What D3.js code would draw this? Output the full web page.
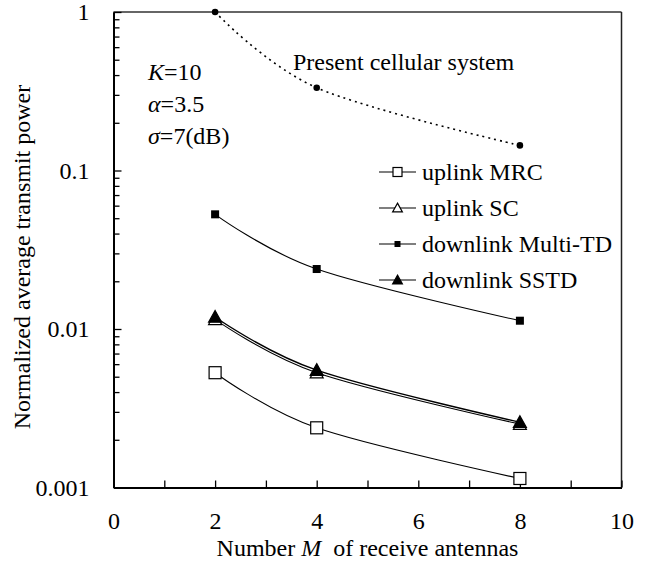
<!DOCTYPE html>
<html>
<head>
<meta charset="utf-8">
<script src="https://cdn.jsdelivr.net/npm/d3@7"></script>
<style>
  body { margin: 0; background: #fff; }
</style>
</head>
<body>
<svg id="chart" width="647" height="570" font-family="Liberation Serif"></svg>
<script>
// data
const antennas      = [2, 4, 8];
const present_cell  = [1.0, 0.333, 0.144];
const uplink_mrc    = [0.0053, 0.00238, 0.00114];
const uplink_sc     = [0.0115, 0.0053, 0.00251];
const down_multi_td = [0.0529, 0.0239, 0.01128];
const down_sstd     = [0.0119, 0.0055, 0.00258];

const x_ticks = [0, 2, 4, 6, 8, 10];
const x_minor = [1, 3, 5, 7, 9];
const y_ticks = [1, 0.1, 0.01, 0.001];
const y_tick_labels = ["1", "0.1", "0.01", "0.001"];

const legend_items = [
  {name: "uplink MRC",        marker: "square_open"},
  {name: "uplink SC",         marker: "tri_open"},
  {name: "downlink Multi-TD", marker: "square_fill"},
  {name: "downlink SSTD",     marker: "tri_fill"}
];

const plot = {left: 113.5, right: 621.5, top: 12, bottom: 487.5};
const FS = 24;
const FONT = "Liberation Serif";

const svg = d3.select("#chart");
const x = d3.scaleLinear().domain([0, 10]).range([plot.left, plot.right]);
const y = d3.scaleLog().domain([0.001, 1]).range([plot.bottom, plot.top]);

function txt(sel){ return sel.attr("font-family", FONT).attr("font-size", FS).attr("fill", "#000"); }

// minor log ticks 2..9 in every decade
var y_minor = [];
[0.001, 0.01, 0.1].forEach(function(dec){
  for (var k = 2; k <= 9; k++) y_minor.push(dec * k);
});

// frame: top + right
svg.append("line").attr("x1", plot.left).attr("x2", plot.right).attr("y1", plot.top).attr("y2", plot.top)
  .style("stroke", "#666").style("stroke-width", 1.8);
svg.append("line").attr("x1", plot.right).attr("x2", plot.right).attr("y1", plot.top).attr("y2", plot.bottom)
  .style("stroke", "#222").style("stroke-width", 1.5);

// y axis
const y_minor_g = svg.append("g").attr("transform", "translate(" + plot.left + ",0)")
  .call(d3.axisLeft(y).tickValues(y_minor).tickSize(-6).tickSizeOuter(0).tickFormat(""));
y_minor_g.select(".domain").remove();
const y_axis_g = svg.append("g").attr("transform", "translate(" + plot.left + ",0)")
  .call(d3.axisLeft(y).tickValues(y_ticks).tickSize(-8).tickSizeOuter(0).tickPadding(24)
    .tickFormat(function(d, i){ return y_tick_labels[i]; }));

// x axis
const x_minor_g = svg.append("g").attr("transform", "translate(0," + plot.bottom + ")")
  .call(d3.axisBottom(x).tickValues(x_minor).tickSize(-7).tickSizeOuter(0).tickFormat(""));
x_minor_g.select(".domain").remove();
const x_axis_g = svg.append("g").attr("transform", "translate(0," + plot.bottom + ")")
  .call(d3.axisBottom(x).tickValues(x_ticks).tickSize(-7).tickSizeOuter(0).tickPadding(24).tickFormat(d3.format("d")));

[y_axis_g, x_axis_g].forEach(function(g){
  g.attr("font-family", FONT).attr("font-size", FS);
  txt(g.selectAll("text"));
});

svg.selectAll(".domain").style("stroke", "#000").style("stroke-width", 2);
svg.selectAll(".tick line").style("stroke", "#000").style("stroke-width", 1.3);

// axis titles
const x_title = txt(svg.append("text")).attr("x", (plot.left + plot.right) / 2).attr("y", 556)
  .attr("text-anchor", "middle").attr("xml:space", "preserve");
x_title.append("tspan").text("Number ");
x_title.append("tspan").attr("font-style", "italic").text("M");
x_title.append("tspan").text("  of receive antennas");

txt(svg.append("text")).attr("transform", "translate(30,257) rotate(-90)")
  .attr("text-anchor", "middle")
  .text("Normalized average transmit power");

// parameters
function param_label(sym, rest, yy){
  const t = txt(svg.append("text")).attr("x", 148).attr("y", yy);
  t.append("tspan").attr("font-style", "italic").text(sym);
  t.append("tspan").text(rest);
}
param_label("K", "=10", 80);
param_label("\u03b1", "=3.5", 112);
param_label("\u03c3", "=7(dB)", 144);

txt(svg.append("text")).attr("x", 293).attr("y", 70).text("Present cellular system");

// series
const line = d3.line()
  .x(function(d){ return x(d[0]); })
  .y(function(d){ return y(d[1]); })
  .curve(d3.curveCatmullRom.alpha(0));

function pts(vals){ return antennas.map(function(m, i){ return [m, vals[i]]; }); }

function draw_marker(g, kind, cx, cy, k){
  k = k || 1;
  if (kind == "square_open") {
    const h = 6 * k;
    g.append("rect").attr("x", cx - h).attr("y", cy - h).attr("width", 2 * h).attr("height", 2 * h)
      .style("fill", "#fff").style("stroke", "#000").style("stroke-width", 1.2);
  } else if (kind == "square_fill") {
    const h = 4 * k;
    g.append("rect").attr("x", cx - h).attr("y", cy - h).attr("width", 2 * h).attr("height", 2 * h)
      .style("fill", "#000");
  } else if (kind == "tri_open" || kind == "tri_fill") {
    const s = 6.5 * k;
    g.append("path").attr("d", "M" + cx + "," + (cy - s) + "L" + (cx + s) + "," + (cy + s * 0.8) + "L" + (cx - s) + "," + (cy + s * 0.8) + "Z")
      .style("fill", kind == "tri_fill" ? "#000" : "#fff").style("stroke", "#000").style("stroke-width", 1.2);
  } else if (kind == "dot") {
    g.append("circle").attr("cx", cx).attr("cy", cy).attr("r", 3.3).style("fill", "#000");
  }
}

const series = [
  {vals: present_cell,  marker: "dot",         dash: "2,4", width: 1.6},
  {vals: uplink_mrc,    marker: "square_open", dash: null,  width: 1.1},
  {vals: uplink_sc,     marker: "tri_open",    dash: null,  width: 1.1},
  {vals: down_multi_td, marker: "square_fill", dash: null,  width: 1.1},
  {vals: down_sstd,     marker: "tri_fill",    dash: null,  width: 1.4}
];

const series_g = svg.append("g");
series.forEach(function(s){
  series_g.append("path").datum(pts(s.vals)).attr("d", line)
    .style("fill", "none").style("stroke", "#000").style("stroke-width", s.width)
    .style("stroke-dasharray", s.dash);
});
series.forEach(function(s){
  pts(s.vals).forEach(function(p){ draw_marker(series_g, s.marker, x(p[0]), y(p[1])); });
});

// legend
const legend_g = svg.append("g");
legend_items.forEach(function(item, i){
  const cy = 172 + i * 36;
  legend_g.append("line").attr("x1", 379).attr("x2", 416).attr("y1", cy).attr("y2", cy)
    .style("stroke", "#000").style("stroke-width", 1.2);
  draw_marker(legend_g, item.marker, 397.5, cy, 0.75);
  txt(legend_g.append("text")).attr("x", 422).attr("y", cy + 8).text(item.name);
});
</script>
</body>
</html>
